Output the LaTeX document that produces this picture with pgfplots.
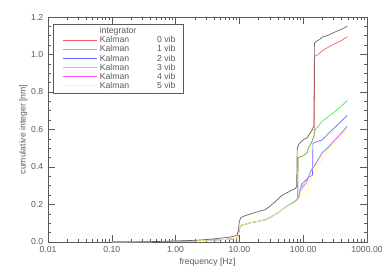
\documentclass[border=0pt]{standalone}
\usepackage{fontspec}
\setmainfont{Liberation Sans}
\usepackage{pgfplots}
\pgfplotsset{compat=1.18}
\definecolor{cInt}{RGB}{95,95,95}
\definecolor{cR}{RGB}{255,90,90}
\definecolor{cG}{RGB}{80,230,80}
\definecolor{cB}{RGB}{100,100,255}
\definecolor{cC}{RGB}{90,235,235}
\definecolor{cM}{RGB}{255,90,255}
\definecolor{cY}{RGB}{255,255,110}
\definecolor{txt}{RGB}{90,90,90}
\begin{document}
\begin{tikzpicture}
\begin{axis}[
  name=ax,
  scale only axis,
  width=239.25pt, height=168.75pt,
  xmode=log, xmin=0.01, xmax=1000,
  ymin=0, ymax=1.2,
  xtick={0.01,0.1,1,10,100,1000},
  xticklabels={0.01,0.10,1.00,10.00,100.00,1000.00},
  ytick={0,0.2,0.4,0.6,0.8,1.0,1.2},
  yticklabels={0.0,0.2,0.4,0.6,0.8,1.0,1.2},
  minor y tick num=3,
  tick align=inside,
  major tick length=5pt,
  minor tick length=2.5pt,
  axis line style={txt},
  every tick/.style={txt},
  tick label style={font=\fontsize{6.5}{8}\selectfont, text=txt},
  label style={font=\fontsize{6.5}{8}\selectfont, text=txt},
  xlabel={frequency [Hz]},
  ylabel={cumulative integer [nm]},
  xlabel style={yshift=3pt},
  ylabel style={yshift=-4pt},
  legend cell align=left,
  legend style={at={(0.016,0.969)}, anchor=north west, draw=txt,
    font=\fontsize{6.5}{6.75}\selectfont, text=txt,
    inner xsep=4pt, inner ysep=2pt,
    nodes={inner ysep=0.4pt, inner xsep=2pt, text height=4.8pt, text depth=1.2pt}},
  legend image code/.code={\draw[#1, line width=0.6pt] (3pt,0pt) -- (28.5pt,0pt);},
  every axis plot/.append style={line width=0.5pt},
]
\addlegendimage{empty legend}
\addlegendentry{integrator}
\addplot[cR] coordinates {
(0.1,0) (0.3,0.001) (1,0.004) (2,0.007) (3,0.009) (5,0.012) (7,0.015) (9,0.02)
(9.5,0.03) (10,0.07) (10.5,0.085) (11,0.09) (13,0.097) (15,0.103) (20,0.111)
(25,0.118) (30,0.13) (40,0.155) (50,0.18) (60,0.197) (70,0.21) (80,0.225)
(82,0.24) (83,0.45) (100,0.46) (115,0.475) (120,0.5) (135,0.53) (149,0.57)
(151,0.99) (170,1.0) (200,1.02) (250,1.04) (300,1.055) (400,1.075) (490,1.095)};
\addlegendentry{\makebox[43pt][l]{Kalman}0 vib}
\addplot[cG] coordinates {
(0.1,0) (0.3,0.001) (1,0.004) (2,0.007) (3,0.009) (5,0.012) (7,0.015) (9,0.02)
(9.5,0.03) (10,0.07) (10.5,0.085) (11,0.09) (13,0.097) (15,0.103) (20,0.111)
(25,0.118) (30,0.13) (40,0.155) (50,0.18) (60,0.197) (70,0.21) (80,0.225)
(82,0.24) (83,0.45) (100,0.46) (115,0.475) (120,0.5) (135,0.53) (149,0.57)
(155,0.6) (200,0.645) (250,0.67) (300,0.69) (400,0.725) (490,0.755)};
\addlegendentry{\makebox[43pt][l]{Kalman}1 vib}
\addplot[cB] coordinates {
(0.1,0) (0.3,0.001) (1,0.004) (2,0.007) (3,0.009) (5,0.012) (7,0.015) (9,0.02)
(9.5,0.03) (10,0.07) (10.5,0.085) (11,0.09) (13,0.097) (15,0.103) (20,0.111)
(25,0.118) (30,0.13) (40,0.155) (50,0.18) (60,0.197) (70,0.21) (80,0.225)
(85,0.24) (90,0.28) (95,0.31) (110,0.33) (120,0.345) (140,0.356) (142,0.525)
(150,0.53) (200,0.545) (250,0.58) (300,0.605) (400,0.645) (490,0.675)};
\addlegendentry{\makebox[43pt][l]{Kalman}2 vib}
\addplot[cC] coordinates {
(0.1,0) (0.3,0.001) (1,0.004) (2,0.007) (3,0.009) (5,0.012) (7,0.015) (9,0.02)
(9.5,0.03) (10,0.07) (10.5,0.085) (11,0.09) (13,0.097) (15,0.103) (20,0.111)
(25,0.118) (30,0.13) (40,0.157) (50,0.183) (60,0.2) (70,0.213) (80,0.228)
(85,0.245) (90,0.285) (100,0.305) (110,0.315) (120,0.345) (130,0.38) (150,0.41)
(200,0.48) (250,0.51) (300,0.54) (400,0.585) (490,0.62)};
\addlegendentry{\makebox[43pt][l]{Kalman}3 vib}
\addplot[cM] coordinates {
(0.1,0) (0.3,0.001) (1,0.004) (2,0.007) (3,0.009) (5,0.012) (7,0.015) (9,0.02)
(9.5,0.03) (10,0.07) (10.5,0.085) (11,0.09) (13,0.097) (15,0.103) (20,0.111)
(25,0.118) (30,0.13) (40,0.155) (50,0.18) (60,0.197) (70,0.21) (80,0.225)
(85,0.24) (90,0.275) (100,0.295) (110,0.31) (120,0.34) (130,0.375) (150,0.405)
(200,0.475) (250,0.505) (300,0.535) (400,0.58) (490,0.615)};
\addlegendentry{\makebox[43pt][l]{Kalman}4 vib}
\addplot[cY] coordinates {
(0.1,0) (0.3,0.001) (1,0.004) (2,0.007) (3,0.009) (5,0.012) (7,0.015) (9,0.02)
(9.5,0.03) (10,0.07) (10.5,0.085) (11,0.09) (13,0.097) (15,0.103) (20,0.111)
(25,0.118) (30,0.13) (40,0.155) (50,0.18) (60,0.195) (70,0.207) (80,0.22)
(90,0.24) (100,0.26) (115,0.275) (120,0.3) (125,0.32) (140,0.35) (150,0.37)
(200,0.445) (250,0.49) (300,0.52) (400,0.565) (490,0.598)};
\addlegendentry{\makebox[43pt][l]{Kalman}5 vib}
\addplot[cInt, forget plot] coordinates {
(0.1,0) (0.3,0.001) (1,0.005) (2,0.009) (3,0.013) (5,0.02) (7,0.026) (8.5,0.032)
(9.3,0.04) (9.7,0.07) (10,0.11) (10.5,0.13) (12,0.139) (15,0.15) (20,0.163)
(25,0.172) (30,0.19) (40,0.228) (45,0.245) (50,0.255) (55,0.262) (65,0.275)
(75,0.285) (79,0.295) (80.5,0.5) (85,0.52) (96,0.54) (105,0.55) (115,0.555)
(125,0.575) (140,0.6) (147,0.62) (150,1.06) (160,1.07) (180,1.08) (200,1.093)
(250,1.103) (300,1.117) (400,1.135) (490,1.15)};
\end{axis}
\pgfresetboundingbox
\path ([xshift=-36pt,yshift=-23.25pt]ax.south west) rectangle ([xshift=11.25pt,yshift=12.75pt]ax.north east);
\end{tikzpicture}
\end{document}
